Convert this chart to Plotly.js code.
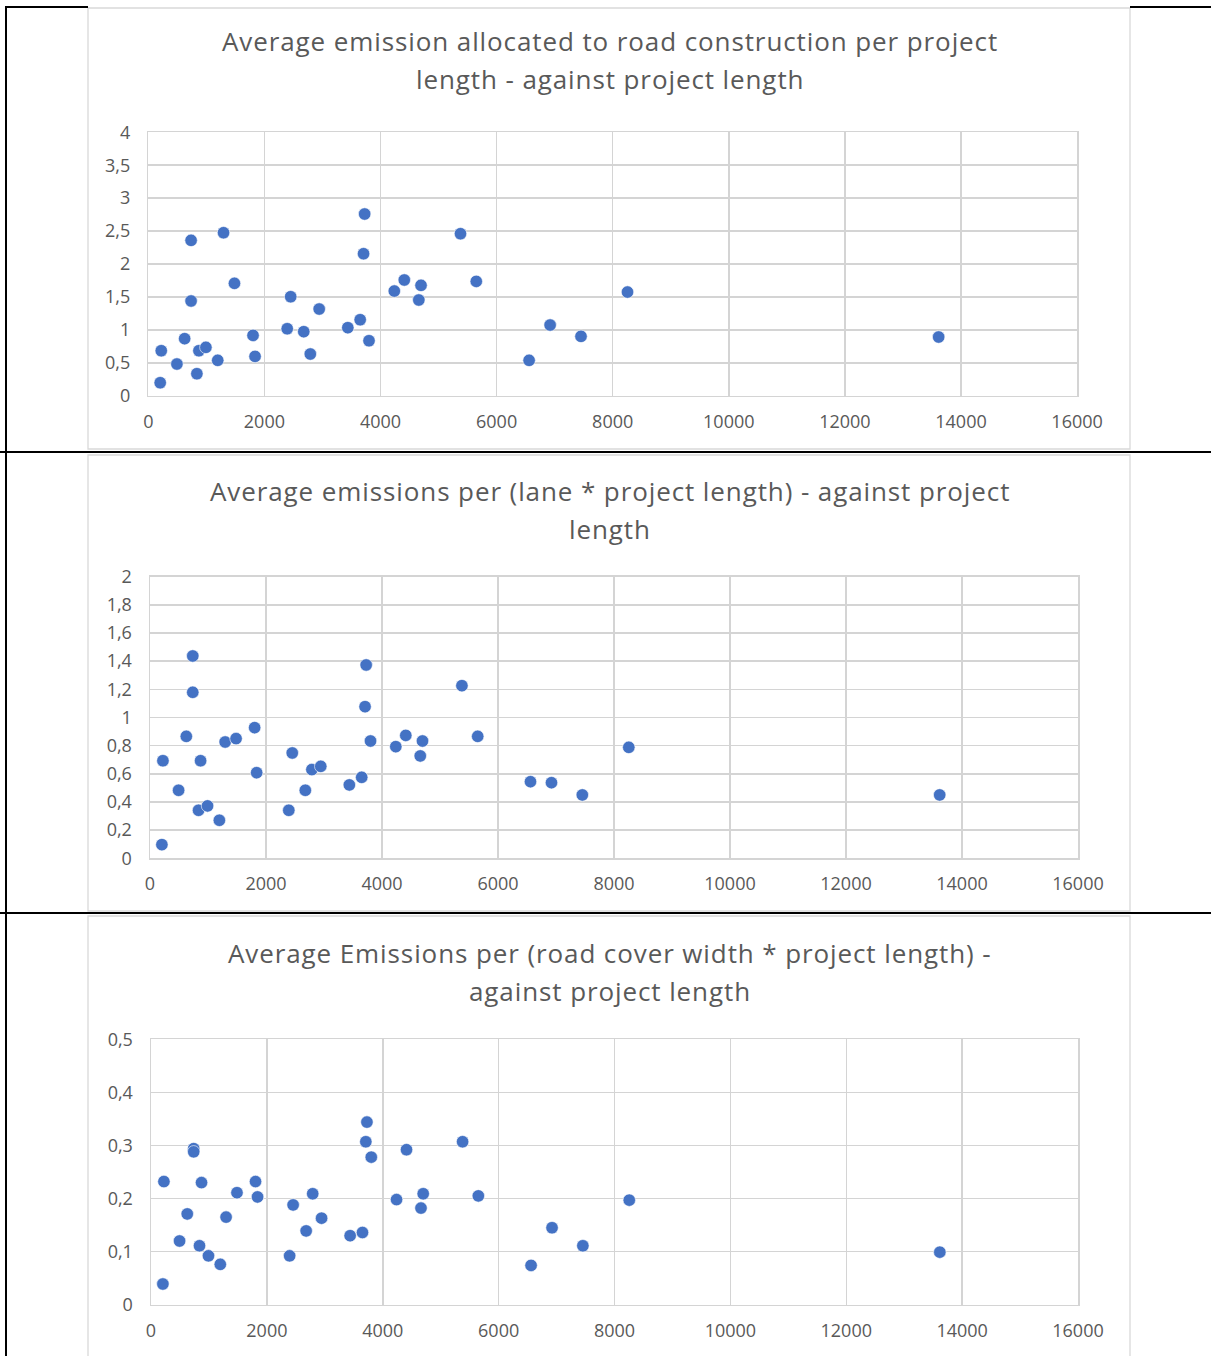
<!DOCTYPE html>
<html>
<head>
<meta charset="utf-8">
<script src="https://cdn.plot.ly/plotly-3.0.1.min.js"></script>
<style>
html,body{margin:0;padding:0;background:#fff;}
#chart{width:1211px;height:1356px;}
.annotation-text{letter-spacing:0.9px;}
</style>
</head>
<body>
<div id="chart"></div>
<script>
// Project length (shared x values)
const projectLength = [205,223,493,626,737,737,837,872,992,1196,1296,1484,1804,1839,2393,2453,2678,2791,2944,3437,3650,3727,3708,3802,4238,4410,4698,4660,5378,5650,6560,6922,7454,8255,13615];
// Chart 1: average emission allocated to road construction per project length
const emissionPerLength = [0.197,0.683,0.481,0.866,2.359,1.438,0.334,0.683,0.734,0.537,2.475,1.706,0.916,0.597,1.017,1.503,0.972,0.633,1.316,1.033,1.154,2.759,2.156,0.835,1.589,1.757,1.676,1.453,2.460,1.736,0.537,1.073,0.901,1.574,0.891];
// Chart 2: average emissions per (lane * project length)
const emissionPerLaneLength = [0.097,0.693,0.483,0.866,1.179,1.437,0.341,0.693,0.372,0.270,0.826,0.850,0.928,0.608,0.341,0.748,0.483,0.630,0.653,0.521,0.575,1.373,1.077,0.833,0.793,0.873,0.833,0.727,1.226,0.866,0.544,0.537,0.450,0.788,0.450];
// Chart 3: average emissions per (road cover width * project length)
const emissionPerWidthLength = [0.039,0.232,0.120,0.171,0.294,0.288,0.111,0.230,0.092,0.076,0.165,0.211,0.232,0.203,0.092,0.188,0.139,0.209,0.163,0.130,0.136,0.344,0.307,0.278,0.198,0.292,0.209,0.182,0.307,0.205,0.074,0.145,0.111,0.197,0.099];

const titles1 = ["Average emission allocated to road construction per project", "length - against project length"];
const titles2 = ["Average emissions per (lane * project length) - against project", "length"];
const titles3 = ["Average Emissions per (road cover width * project length) -", "against project length"];

const xTickVals = [0,2000,4000,6000,8000,10000,12000,14000,16000];
const xTickText = ["0","2000","4000","6000","8000","10000","12000","14000","16000"];
const y1TickVals = [0,0.5,1,1.5,2,2.5,3,3.5,4];
const y1TickText = ["0","0,5","1","1,5","2","2,5","3","3,5","4"];
const y2TickVals = [0,0.2,0.4,0.6,0.8,1,1.2,1.4,1.6,1.8,2];
const y2TickText = ["0","0,2","0,4","0,6","0,8","1","1,2","1,4","1,6","1,8","2"];
const y3TickVals = [0,0.1,0.2,0.3,0.4,0.5];
const y3TickText = ["0","0,1","0,2","0,3","0,4","0,5"];

const W = 1211, H = 1356;
const px = v => v / W;
const py = v => 1 - v / H;

const FONT = "Open Sans, Noto Sans, sans-serif";
const GRAY = "#d4d4d4";
const TXT = "#595959";
const BLUE = "#4472c4";

function trace(y, xa, ya) {
  return {
    type: "scatter", mode: "markers",
    x: projectLength, y: y, xaxis: xa, yaxis: ya,
    marker: {color: BLUE, size: 12.5, line: {color: "#ffffff", width: 0.6}},
    hoverinfo: "x+y"
  };
}

function xAxis(d0, d1, anchor) {
  return {
    domain: [px(d0), px(d1)], anchor: anchor, range: [0, 16000],
    tickmode: "array", tickvals: xTickVals, ticktext: xTickText,
    showgrid: true, gridcolor: GRAY, gridwidth: 1.5,
    showline: true, mirror: true, linecolor: GRAY, linewidth: 1.5,
    zeroline: false, ticks: "", ticklabelstandoff: 9,
    tickfont: {family: FONT, size: 18, color: TXT}, fixedrange: true
  };
}
function yAxis(top, bottom, anchor, rng, vals, text) {
  return {
    domain: [py(bottom), py(top)], anchor: anchor, range: rng,
    tickmode: "array", tickvals: vals, ticktext: text,
    showgrid: true, gridcolor: GRAY, gridwidth: 1.5,
    showline: true, mirror: true, linecolor: GRAY, linewidth: 1.5,
    zeroline: false, ticks: "", ticklabelstandoff: 13,
    tickfont: {family: FONT, size: 18, color: TXT}, fixedrange: true
  };
}

function titleAnn(text, yPix) {
  return {
    text: text, xref: "paper", yref: "paper", x: px(610), y: py(yPix),
    xanchor: "center", yanchor: "middle", showarrow: false,
    font: {family: FONT, size: 26, color: TXT}
  };
}

const shapes = [];
function line(x0, y0, x1, y1, color, width) {
  shapes.push({type: "line", xref: "paper", yref: "paper",
    x0: px(x0), y0: py(y0), x1: px(x1), y1: py(y1),
    line: {color: color, width: width}, layer: "above"});
}
function box(x0, y0, x1, y1) {
  shapes.push({type: "rect", xref: "paper", yref: "paper",
    x0: px(x0), y0: py(y0), x1: px(x1), y1: py(y1),
    line: {color: "#d9d9d9", width: 1.3}, fillcolor: "rgba(0,0,0,0)", layer: "below"});
}
// table borders (black)
line(6, 7, 88, 7, "#000", 2);
line(1130, 7, 1211, 7, "#000", 2);
line(0, 452, 1211, 452, "#000", 2);
line(0, 913, 1211, 913, "#000", 2);
line(6, 6, 6, 1356, "#000", 2);
// chart area boxes (light gray)
box(88, 8, 1130, 449);
box(88, 455, 1130, 911);
box(88, 916, 1130, 1362);

const data = [
  trace(emissionPerLength, "x", "y"),
  trace(emissionPerLaneLength, "x2", "y2"),
  trace(emissionPerWidthLength, "x3", "y3")
];

const layout = {
  width: W, height: H, margin: {l: 0, r: 0, t: 0, b: 0},
  paper_bgcolor: "#ffffff", plot_bgcolor: "#ffffff",
  showlegend: false, separators: ",",
  font: {family: FONT, color: TXT},
  xaxis: xAxis(148.3, 1077.1, "y"),
  yaxis: yAxis(132.3, 395.7, "x", [0, 4], y1TickVals, y1TickText),
  xaxis2: xAxis(150, 1078, "y2"),
  yaxis2: yAxis(576.7, 858.3, "x2", [0, 2], y2TickVals, y2TickText),
  xaxis3: xAxis(151, 1078, "y3"),
  yaxis3: yAxis(1039.3, 1304.7, "x3", [0, 0.5], y3TickVals, y3TickText),
  annotations: [
    titleAnn(titles1[0], 41), titleAnn(titles1[1], 79),
    titleAnn(titles2[0], 491), titleAnn(titles2[1], 529),
    titleAnn(titles3[0], 953), titleAnn(titles3[1], 991)
  ],
  shapes: shapes
};

Plotly.newPlot("chart", data, layout, {displayModeBar: false, staticPlot: true});
</script>
</body>
</html>
